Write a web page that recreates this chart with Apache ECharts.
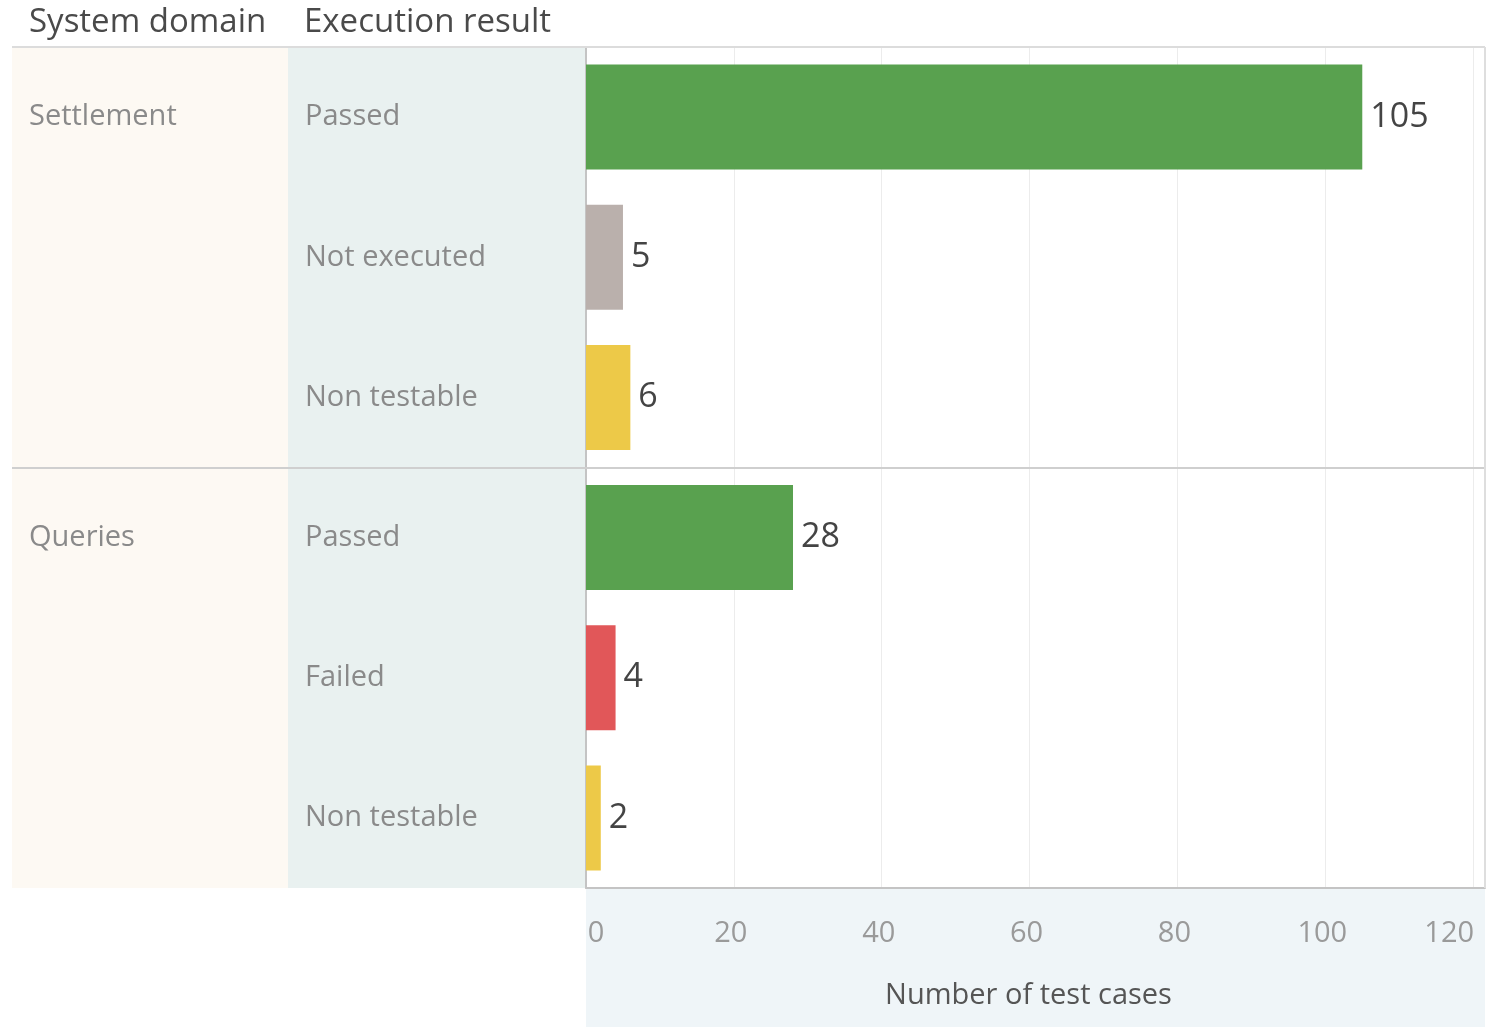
<!DOCTYPE html>
<html>
<head>
<meta charset="utf-8">
<script src="https://cdn.jsdelivr.net/npm/echarts@6/dist/echarts.min.js"></script>
<style>
  * { margin: 0; padding: 0; }
  body { background: #fff; }
  #main { width: 1487px; height: 1027px; }
</style>
</head>
<body>
<div id="main"></div>
<script>
// data
const domains = ['Settlement', 'Settlement', 'Settlement', 'Queries', 'Queries', 'Queries'];
const results = ['Passed', 'Not executed', 'Non testable', 'Passed', 'Failed', 'Non testable'];
const counts = [105, 5, 6, 28, 4, 2];
const xTicks = [0, 20, 40, 60, 80, 100, 120];

const resultColors = {
  'Passed': '#59a14f',
  'Not executed': '#bab0ac',
  'Non testable': '#edc948',
  'Failed': '#e15759'
};

const font = '"Open Sans", "Noto Sans", sans-serif';
const chart = echarts.init(document.getElementById('main'));

const tickStyle = { color: '#9a9a9a', fontSize: 29, fontFamily: font };

chart.setOption({
  animation: false,
  textStyle: { fontFamily: font },
  graphic: [
    // column backgrounds
    { type: 'rect', z: -10, shape: { x: 12, y: 47, width: 276, height: 841 }, style: { fill: '#fdf9f3' } },
    { type: 'rect', z: -10, shape: { x: 288, y: 47, width: 298, height: 841 }, style: { fill: '#e9f1f0' } },
    { type: 'rect', z: -10, shape: { x: 586, y: 888, width: 899, height: 139 }, style: { fill: '#eff5f8' } },
    // header
    { type: 'text', left: 29, top: 6, style: { text: 'System domain', fill: '#4a4a4a', font: '33px ' + font } },
    { type: 'text', left: 304, top: 6, style: { text: 'Execution result', fill: '#4a4a4a', font: '33px ' + font } },
    { type: 'line', z: 10, shape: { x1: 12, y1: 47, x2: 1485, y2: 47 }, style: { stroke: '#dcdcdc', lineWidth: 2 } },
    // group separator
    { type: 'line', z: 10, shape: { x1: 12, y1: 468, x2: 1485, y2: 468 }, style: { stroke: '#cfcfcf', lineWidth: 2 } },
    // right border
    { type: 'line', z: 10, shape: { x1: 1485, y1: 47, x2: 1485, y2: 888 }, style: { stroke: '#dedede', lineWidth: 2 } }
  ],
  grid: { left: 586, top: 47, right: 2, bottom: 139, outerBoundsMode: 'none', containLabel: false },
  xAxis: {
    type: 'value',
    min: 0,
    max: 121.6,
    interval: 20,
    axisLine: { show: true, onZero: false, lineStyle: { color: '#c4c4c4', width: 2 } },
    axisTick: { show: false },
    splitLine: { show: true, lineStyle: { color: '#ececec', width: 1 } },
    axisLabel: {
      color: '#9a9a9a',
      fontSize: 29,
      margin: 31,
      showMaxLabel: false,
      formatter: v => {
        if (xTicks.indexOf(v) < 0) return '';
        if (v === xTicks[0]) return '{first|' + v + '}';
        if (v === xTicks[xTicks.length - 1]) return '{last|' + v + '}';
        return '{mid|' + v + '}';
      },
      rich: {
        first: Object.assign({ padding: [0, 0, 0, 20] }, tickStyle),
        mid: Object.assign({ padding: [0, 6, 0, 0] }, tickStyle),
        last: Object.assign({ padding: [0, 48, 0, 0] }, tickStyle)
      }
    },
    name: 'Number of test cases',
    nameLocation: 'middle',
    nameGap: 93,
    nameTextStyle: { color: '#555', fontSize: 29, padding: [0, 14, 0, 0] }
  },
  yAxis: [
    {
      type: 'category',
      inverse: true,
      data: results,
      axisLine: { show: true, lineStyle: { color: '#c4c4c4', width: 2 } },
      axisTick: { show: false },
      axisLabel: { align: 'left', margin: 281, color: '#8a8a8a', fontSize: 29 }
    },
    {
      type: 'category',
      inverse: true,
      position: 'left',
      data: domains,
      axisLine: { show: false },
      axisTick: { show: false },
      axisLabel: {
        align: 'left',
        margin: 557,
        color: '#8a8a8a',
        fontSize: 29,
        formatter: (v, i) => (i === 0 || domains[i - 1] !== v) ? v : ''
      }
    }
  ],
  series: [{
    type: 'bar',
    barWidth: 105,
    data: counts.map((c, i) => ({ value: c, itemStyle: { color: resultColors[results[i]] } })),
    label: {
      show: true,
      position: 'right',
      distance: 8,
      color: '#444',
      fontSize: 34
    }
  }]
});
</script>
</body>
</html>
